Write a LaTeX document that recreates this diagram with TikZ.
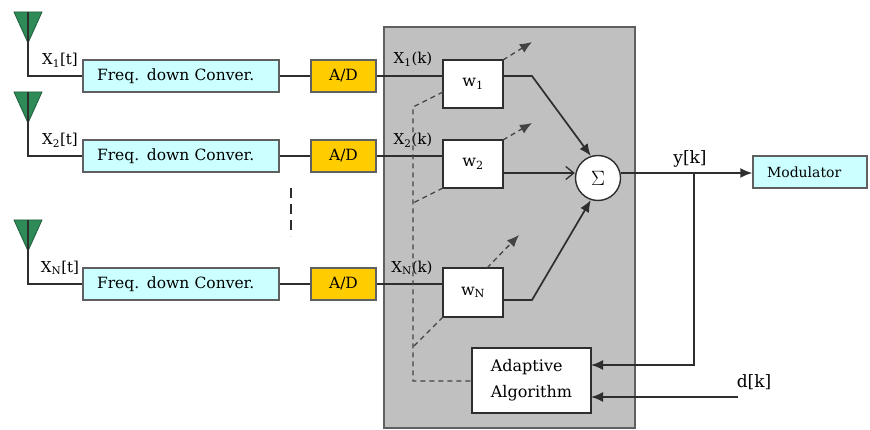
\documentclass[tikz,border=0pt]{standalone}
\usepackage{fontspec}
\setmainfont{DejaVu Serif}
\usetikzlibrary{arrows.meta}
\definecolor{lineC}{HTML}{2E2E2E}
\definecolor{boxB}{HTML}{606060}
\definecolor{cyanF}{HTML}{CCFFFF}
\definecolor{adF}{HTML}{FFCC00}
\definecolor{grayF}{HTML}{C0C0C0}
\definecolor{antF}{HTML}{2E8B57}
\definecolor{antD}{HTML}{1E5E3A}
\begin{document}
\begin{tikzpicture}[x=1pt,y=-1pt,
  ln/.style={draw=lineC, line width=1.3pt},
  arr/.style={draw=lineC, line width=1.7pt, -{Latex[length=12pt,width=10pt]}},
  oarr/.style={draw=lineC, line width=1.6pt, -{Straight Barb[length=8pt,width=13pt,line width=1.3pt]}},
  dsh/.style={draw=lineC!90, line width=1.3pt, dash pattern=on 5pt off 4pt},
  darr/.style={dsh, -{Latex[length=12pt,width=10pt]}},
  freqbox/.style={draw=boxB, line width=1.4pt, fill=cyanF, minimum width=196pt, minimum height=32pt, inner xsep=14pt, inner ysep=0pt, text width=168pt, align=left, font=\fontsize{15.5}{18}\selectfont},
  adbox/.style={draw=boxB, line width=1.4pt, fill=adF, minimum width=65pt, minimum height=32pt, inner sep=0pt, font=\fontsize{15.5}{18}\selectfont},
  wbox/.style={draw=lineC, line width=1.4pt, fill=white, minimum width=60pt, minimum height=48pt, inner sep=0pt, font=\fontsize{16}{18}\selectfont},
  lbl/.style={inner sep=0pt, font=\fontsize{15}{18}\selectfont},
  ant/.style={fill=antF, draw=antD, line width=0.8pt},
]
\useasboundingbox (0,0) rectangle (870,430);

% DSP gray box
\node[draw=boxB, line width=1.6pt, fill=grayF, minimum width=251pt, minimum height=401pt, inner sep=0pt] (dsp) at (509.5,227.5) {};

% antennas
\foreach \i/\y in {1/12, 2/92, 3/220}{
  \draw[ant] (14,\y) -- (42,\y) -- (28,\y+31) -- cycle;
}

% row boxes
\node[freqbox] (f1) at (181,76) {Freq. down Conver.};
\node[freqbox] (f2) at (181,156) {Freq. down Conver.};
\node[freqbox] (f3) at (181,284) {Freq. down Conver.};
\node[adbox] (a1) at (343.5,76) {A/D};
\node[adbox] (a2) at (343.5,156) {A/D};
\node[adbox] (a3) at (343.5,284) {A/D};

\coordinate (t1) at (28,12);
\coordinate (t2) at (28,92);
\coordinate (t3) at (28,220);
\draw[ln] (t1) |- (f1.west);
\draw[ln] (t2) |- (f2.west);
\draw[ln] (t3) |- (f3.west);
\draw[ln] (f1.east) -- (a1.west);
\draw[ln] (f2.east) -- (a2.west);
\draw[ln] (f3.east) -- (a3.west);

\node[lbl] (x1t) at (60,60) {X\textsubscript{1}[t]};
\node[lbl] (x2t) at (60,140) {X\textsubscript{2}[t]};
\node[lbl] (x3t) at (60,268) {X\textsubscript{N}[t]};

% ellipsis
\coordinate (e1) at (291,188);
\coordinate (e2) at (291,236);
\draw[draw=lineC, line width=1.3pt, dash pattern=on 10pt off 6pt] (e1) -- (e2);

% weights
\node[wbox] (w1) at (473,84) {w\textsubscript{1}};
\node[wbox] (w2) at (473,164) {w\textsubscript{2}};
\node[wbox, minimum height=49pt] (w3) at (473,292.5) {w\textsubscript{N}};

\draw[ln] (a1.east) -- (w1.west |- a1.east);
\draw[ln] (a2.east) -- (w2.west |- a2.east);
\draw[ln] (a3.east) -- (w3.west |- a3.east);

\node[lbl] (x1k) at (413,59) {X\textsubscript{1}(k)};
\node[lbl] (x2k) at (413,140) {X\textsubscript{2}(k)};
\node[lbl] (x3k) at (412,268) {X\textsubscript{N}(k)};

% sigma
\node[circle, draw=lineC, line width=1.4pt, fill=white, minimum size=45pt, inner sep=0pt, font=\fontsize{20}{22}\selectfont] (sig) at (598,178) {$\Sigma$};

\coordinate (o1) at (503,76);
\coordinate (k1) at (532,76);
\coordinate (o2) at (503,173);
\coordinate (o3) at (503,300);
\coordinate (k3) at (532,300);
\draw[arr] (o1) -- (k1) -- (sig.108);
\draw[oarr] (o2) -- (sig.west |- o2);
\draw[arr] (o3) -- (k3) -- (sig.252);

% dashed weight-update arrows
\coordinate (d1s) at (503,60);
\coordinate (d1e) at (532,42);
\coordinate (d2s) at (503,140);
\coordinate (d2e) at (532,123);
\coordinate (d3s) at (487,268);
\coordinate (d3e) at (519,235);
\draw[darr] (d1s) -- (d1e);
\draw[darr] (d2s) -- (d2e);
\draw[darr] (d3s) -- (d3e);

% adaptive algorithm
\node[draw=lineC, line width=1.4pt, fill=white, minimum width=119pt, minimum height=65pt, inner sep=0pt, align=left, font=\fontsize{16}{26}\selectfont] (alg) at (531.5,380.5) {Adaptive\\Algorithm};

% dashed feedback lines
\coordinate (b1) at (443,92);
\coordinate (b2) at (443,188);
\coordinate (b3) at (443,317);
\coordinate (c1) at (413,107);
\coordinate (c2) at (413,203);
\coordinate (c3) at (413,347);
\coordinate (c4) at (413,381);
\draw[dsh] (b1) -- (c1) -- (c4) -- (alg.west |- c4);
\draw[dsh] (b2) -- (c2);
\draw[dsh] (b3) -- (c3);

% output
\node[draw=boxB, line width=1.4pt, fill=cyanF, minimum width=114pt, minimum height=32pt, inner xsep=14pt, inner ysep=0pt, text width=86pt, align=left, font=\fontsize{14}{16}\selectfont] (mod) at (810,172) {Modulator};
\draw[arr] (sig.east |- o2) -- (mod.west |- o2);
\node[lbl, font=\fontsize{17}{20}\selectfont] (yk) at (690,159) {y[k]};

\coordinate (yj) at (694,173);
\coordinate (fb) at (591,365);
\draw[arr] (yj) |- (fb);

\coordinate (dk0) at (738,397);
\coordinate (dk1) at (591,397);
\draw[arr] (dk0) -- (dk1);
\node[lbl, font=\fontsize{17}{20}\selectfont] (dk) at (754,382) {d[k]};
\end{tikzpicture}
\end{document}
